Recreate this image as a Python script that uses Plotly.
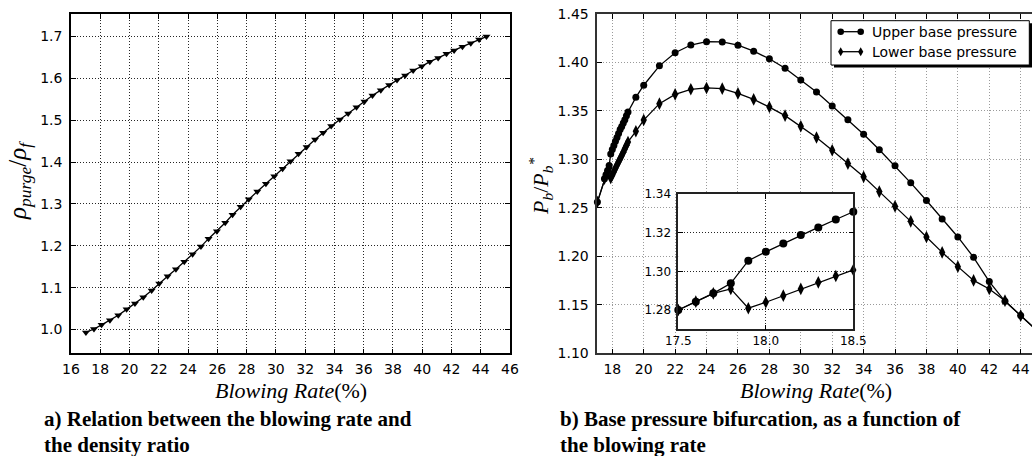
import plotly.graph_objects as go

W, H = 1032, 456

# (a) density ratio against blowing rate
blow_a = [17.02, 17.57, 18.09, 18.66, 19.23, 19.80, 20.37, 20.94, 21.51, 22.03,
          22.60, 23.17, 23.74, 24.31, 24.88, 25.40, 25.97, 26.54, 27.04, 27.59,
          28.15, 28.73, 29.32, 29.89, 30.46, 31.00, 31.55, 32.10, 32.68, 33.23,
          33.78, 34.37, 34.94, 35.51, 36.05, 36.60, 37.17, 37.74, 38.28, 38.83,
          39.38, 39.97, 40.52, 41.09, 41.66, 42.18, 42.75, 43.32, 43.89, 44.39]
rho_ratio = [0.993, 1.001, 1.011, 1.022, 1.034, 1.048, 1.062, 1.077, 1.093, 1.110,
             1.127, 1.144, 1.162, 1.180, 1.198, 1.217, 1.235, 1.255, 1.274, 1.293,
             1.311, 1.330, 1.348, 1.366, 1.384, 1.402, 1.420, 1.436, 1.454, 1.470,
             1.486, 1.502, 1.516, 1.531, 1.545, 1.559, 1.572, 1.584, 1.596, 1.607,
             1.619, 1.629, 1.640, 1.649, 1.659, 1.667, 1.676, 1.684, 1.693, 1.700]

# (b) upper / lower base pressure branches
blow_b = [17.05, 17.5, 17.6, 17.7, 17.8, 17.9, 18.0, 18.1, 18.2, 18.3, 18.4, 18.5,
          18.6, 18.7, 18.8, 18.9, 19.0, 19.5, 20, 21, 22, 23, 24, 25, 26, 27, 28,
          29, 30, 31, 32, 33, 34, 35, 36, 37, 38, 39, 40, 41, 42, 43, 44, 45]
p_upper = [1.256, 1.280, 1.2843, 1.2886, 1.2938, 1.3055, 1.3101, 1.3144, 1.3188,
           1.3227, 1.3268, 1.3308, 1.334, 1.3375, 1.341, 1.345, 1.349, 1.364,
           1.3765, 1.3965, 1.410, 1.418, 1.4214, 1.4212, 1.4178, 1.4117, 1.4038,
           1.394, 1.382, 1.3695, 1.355, 1.341, 1.326, 1.310, 1.2934, 1.2758,
           1.2576, 1.2386, 1.220, 1.199, 1.174, 1.1536, 1.1389, 1.124]
p_lower = [1.256, 1.280, 1.2843, 1.2886, 1.2909, 1.2809, 1.284, 1.2874, 1.2909,
           1.2943, 1.2976, 1.3007, 1.304, 1.3075, 1.311, 1.3145, 1.318, 1.329,
           1.3406, 1.3575, 1.3671, 1.3723, 1.3737, 1.3730, 1.3681, 1.3619, 1.3540,
           1.3452, 1.3342, 1.3226, 1.3095, 1.2957, 1.2820, 1.2668, 1.2516, 1.2361,
           1.220, 1.2041, 1.1894, 1.1752, 1.1663, 1.1543, 1.1389, 1.124]

# points 17.5 .. 18.5 shown in the zoomed inset
zoom_slice = slice(1, 12)

series_names = ["Upper base pressure", "Lower base pressure"]
caption_a = ["a) Relation between the blowing rate and", "the density ratio"]
caption_b = ["b) Base pressure bifurcation, as a function of", "the blowing rate"]


def px_x(p):
    return p / W


def px_y(p):
    return 1 - p / H


TICK_FONT = dict(family="DejaVu Sans", size=14, color="black")
SMALL_FONT = dict(family="DejaVu Sans", size=12, color="black")
TITLE_FONT = dict(family="Liberation Serif", size=22, color="black")
CAP_FONT = dict(family="Liberation Serif", size=21, color="black")

fig = go.Figure()

# ---- panel (a)
fig.add_trace(go.Scatter(
    x=blow_a, y=rho_ratio, mode="lines+markers", xaxis="x", yaxis="y",
    line=dict(color="black", width=1.3),
    marker=dict(symbol="triangle-down", size=7, color="black"),
    showlegend=False))

# ---- panel (b), main axes
fig.add_trace(go.Scatter(
    x=blow_b, y=p_lower, mode="lines+markers", xaxis="x2", yaxis="y2",
    name=series_names[1], cliponaxis=False,
    line=dict(color="black", width=1.3),
    marker=dict(symbol="diamond-tall", size=9, color="black"),
    showlegend=False))
fig.add_trace(go.Scatter(
    x=blow_b, y=p_upper, mode="lines+markers", xaxis="x2", yaxis="y2",
    name=series_names[0], cliponaxis=False,
    line=dict(color="black", width=1.3),
    marker=dict(symbol="circle", size=7, color="black"),
    showlegend=False))

# ---- panel (b), inset
fig.add_trace(go.Scatter(
    x=blow_b[zoom_slice], y=p_lower[zoom_slice], mode="lines+markers",
    xaxis="x3", yaxis="y3", cliponaxis=False,
    line=dict(color="black", width=1.3),
    marker=dict(symbol="diamond-tall", size=9, color="black"),
    showlegend=False))
fig.add_trace(go.Scatter(
    x=blow_b[zoom_slice], y=p_upper[zoom_slice], mode="lines+markers",
    xaxis="x3", yaxis="y3", cliponaxis=False,
    line=dict(color="black", width=1.3),
    marker=dict(symbol="circle", size=8, color="black"),
    showlegend=False))


def axis_style(grid_color, font=TICK_FONT, line_color="black", mirror="ticks",
               standoff=4):
    return dict(
        showgrid=True, gridcolor=grid_color, griddash="1px,2px", gridwidth=1,
        showline=True, linecolor=line_color, linewidth=1.5, mirror=mirror,
        ticks="inside", ticklen=5, tickwidth=1, tickcolor="black",
        zeroline=False, tickfont=font, ticklabelstandoff=standoff, automargin=False,
    )


fig.update_layout(
    width=W, height=H,
    margin=dict(l=0, r=0, t=0, b=0, autoexpand=False),
    paper_bgcolor="white", plot_bgcolor="white",
    xaxis=dict(domain=[px_x(71), px_x(510)], range=[16, 46], tick0=16, dtick=2,
               anchor="y", **axis_style("rgba(0,0,0,0.85)", standoff=2)),
    yaxis=dict(domain=[px_y(353.3), px_y(14)], range=[0.943, 1.754], tick0=1.0,
               dtick=0.1, tickformat=".1f", anchor="x",
               **axis_style("rgba(0,0,0,0.85)")),
    xaxis2=dict(domain=[px_x(597.3), 1.0], range=[17.045, 44.72], tick0=18,
                dtick=2, anchor="y2",
                **axis_style("#9a9a9a", line_color="#333", standoff=2)),
    yaxis2=dict(domain=[px_y(353.3), px_y(14)], range=[1.10, 1.45], tick0=1.10,
                dtick=0.05, tickformat=".2f", anchor="x2",
                **axis_style("#9a9a9a", line_color="#333", mirror=False)),
    xaxis3=dict(domain=[px_x(678.3), px_x(853.3)], range=[17.5, 18.5],
                tickvals=[17.5, 18.0, 18.5], tickformat=".1f", anchor="y3",
                **axis_style("rgba(0,0,0,0.85)", font=SMALL_FONT, line_color="#222",
                             standoff=0)),
    yaxis3=dict(domain=[px_y(329.3), px_y(194)], range=[1.27, 1.34],
                tickvals=[1.28, 1.30, 1.32, 1.34], tickformat=".2f", anchor="x3",
                **axis_style("rgba(0,0,0,0.85)", font=SMALL_FONT, line_color="#222",
                             standoff=3)),
)

ann = []
# axis titles
for xc in (290.5, 816):
    ann.append(dict(x=px_x(xc), y=px_y(390), xref="paper", yref="paper",
                    text="<i>Blowing Rate</i>(%)", showarrow=False, font=TITLE_FONT,
                    xanchor="center", yanchor="middle"))
ann.append(dict(x=px_x(20), y=px_y(181), xref="paper", yref="paper",
                text="<i>ρ<sub>purge</sub></i>/<i>ρ<sub>f</sub></i>",
                showarrow=False, font=dict(family="Liberation Serif", size=25,
                                           color="black"),
                textangle=-90, xanchor="center", yanchor="middle"))
ann.append(dict(x=px_x(540), y=px_y(187), xref="paper", yref="paper",
                text="<i>P<sub>b</sub></i>/<i>P<sub>b</sub><sup>*</sup></i>",
                showarrow=False, font=dict(family="Liberation Serif", size=22,
                                           color="black"),
                textangle=-90, xanchor="center", yanchor="middle"))
# captions: two stacked lines meeting at one boundary
for x0, lines in ((43.0, caption_a), (559.3, caption_b)):
    for anchor, line in zip(("bottom", "top"), lines):
        ann.append(dict(x=px_x(x0), y=px_y(431.5), xref="paper", yref="paper",
                        text="<b>" + line + "</b>", showarrow=False, font=CAP_FONT,
                        xanchor="left", yanchor=anchor, borderpad=0))

# legend box with drop shadow
lx0, lx1, ly0, ly1 = 831, 1029.3, 20.7, 65
shapes = [
    dict(type="rect", xref="paper", yref="paper", x0=px_x(lx0 + 3), x1=px_x(lx1 + 3),
         y0=px_y(ly1 + 2.5), y1=px_y(ly0 + 2.5), fillcolor="black", line=dict(width=0)),
    dict(type="rect", xref="paper", yref="paper", x0=px_x(lx0), x1=px_x(lx1),
         y0=px_y(ly1), y1=px_y(ly0), fillcolor="white",
         line=dict(color="black", width=1)),
]
for row_y, name, symbol in ((31.7, series_names[0], "circle"),
                            (51.7, series_names[1], "diamond")):
    shapes.append(dict(type="line", xref="paper", yref="paper",
                       x0=px_x(840.7), x1=px_x(860.7), y0=px_y(row_y), y1=px_y(row_y),
                       line=dict(color="black", width=1.3)))
    for mx in (840.7, 860.7):
        if symbol == "circle":
            shapes.append(dict(type="circle", xref="paper", yref="paper",
                               x0=px_x(mx - 3.3), x1=px_x(mx + 3.3),
                               y0=px_y(row_y + 3.3), y1=px_y(row_y - 3.3),
                               fillcolor="black", line=dict(width=0)))
        else:
            path = "M {a},{b} L {c},{d} L {a},{e} L {f},{d} Z".format(
                a=px_x(mx), b=px_y(row_y - 4.5), c=px_x(mx + 2.6), d=px_y(row_y),
                e=px_y(row_y + 4.5), f=px_x(mx - 2.6))
            shapes.append(dict(type="path", xref="paper", yref="paper", path=path,
                               fillcolor="black", line=dict(width=0)))
    ann.append(dict(x=px_x(870), y=px_y(row_y), xref="paper", yref="paper",
                    text=name, showarrow=False, font=TICK_FONT,
                    xanchor="left", yanchor="middle"))

fig.update_layout(annotations=ann, shapes=shapes)

fig.write_html("out.html")
